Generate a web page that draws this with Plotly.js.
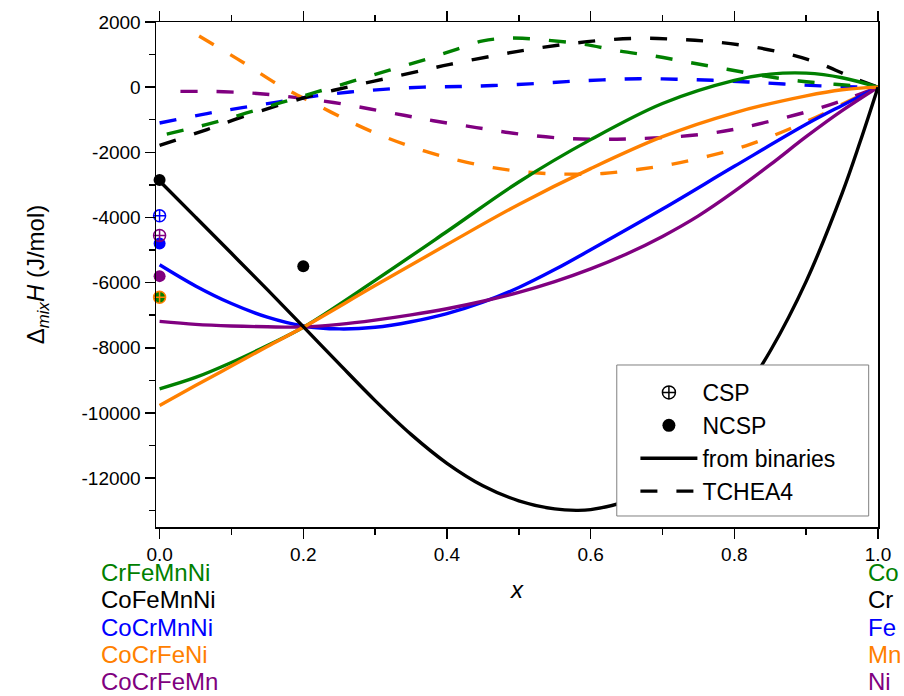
<!DOCTYPE html>
<html>
<head>
<meta charset="utf-8">
<script src="https://cdn.plot.ly/plotly-3.0.1.min.js"></script>
<style>html,body{margin:0;padding:0;background:#fff}#chart{width:904px;height:696px}</style>
</head>
<body>
<div id="chart"></div>
<script>
// ---------- colours ----------
const GREEN = '#008000', BLACK = '#000000', BLUE = '#0000FF', ORANGE = '#FF8000', PURPLE = '#800080';

// ---------- "from binaries" (solid) ----------
// CrFeMnNi + Co (green)
const binCoX = [0, 0.05, 0.1, 0.15, 0.2, 0.3, 0.4, 0.5, 0.6, 0.7, 0.8, 0.85, 0.9, 0.95, 1];
const binCoY = [-9260, -8910, -8450, -7930, -7370, -5930, -4430, -2910, -1610, -500, 210, 400, 430, 290, 0];
// CoFeMnNi + Cr (black)
const binCrX = [0, 0.05, 0.1, 0.15, 0.2, 0.25, 0.3, 0.35, 0.4, 0.45, 0.5, 0.55, 0.58, 0.6, 0.65, 0.7, 0.75, 0.8, 0.85, 0.9, 0.95, 0.975, 1];
const binCrY = [-2880, -3990, -5100, -6215, -7350, -8495, -9620, -10657, -11545, -12233, -12695, -12945, -12990, -12967, -12697, -12097, -11135, -9798, -8098, -5960, -3260, -1685, 0];
// CoCrMnNi + Fe (blue)
const binFeX = [0, 0.05, 0.1, 0.15, 0.2, 0.25, 0.3, 0.35, 0.4, 0.45, 0.5, 0.55, 0.6, 0.7, 0.8, 0.9, 0.95, 1];
const binFeY = [-5450, -6100, -6640, -7060, -7330, -7420, -7370, -7200, -6950, -6600, -6150, -5600, -4990, -3740, -2430, -1140, -560, 0];
// CoCrFeNi + Mn (orange)
const binMnX = [0, 0.05, 0.1, 0.15, 0.2, 0.3, 0.4, 0.5, 0.6, 0.7, 0.8, 0.9, 0.95, 1];
const binMnY = [-9770, -9160, -8560, -7960, -7370, -6090, -4830, -3600, -2500, -1520, -786, -268, -80, 0];
// CoCrFeMn + Ni (purple)
const binNiX = [0, 0.05, 0.1, 0.15, 0.2, 0.25, 0.3, 0.35, 0.4, 0.45, 0.5, 0.55, 0.6, 0.65, 0.7, 0.75, 0.8, 0.85, 0.9, 0.95, 1];
const binNiY = [-7190, -7280, -7330, -7355, -7360, -7280, -7150, -6990, -6800, -6570, -6300, -5970, -5580, -5120, -4580, -3950, -3200, -2380, -1520, -720, 0];

// ---------- TCHEA4 (dashed) ----------
const tcCoX = [0.01, 0.07, 0.12, 0.17, 0.22, 0.27, 0.32, 0.37, 0.41, 0.45, 0.48, 0.505, 0.54, 0.59, 0.64, 0.69, 0.74, 0.79, 0.84, 0.89, 0.94, 1];
const tcCoY = [-1440, -1120, -800, -470, -140, 190, 520, 850, 1140, 1420, 1500, 1500, 1440, 1320, 1110, 950, 750, 550, 350, 190, 90, 0];
const tcCrX = [0, 0.066, 0.117, 0.168, 0.219, 0.265, 0.316, 0.367, 0.404, 0.464, 0.515, 0.566, 0.617, 0.668, 0.719, 0.768, 0.816, 0.867, 0.916, 0.967, 1];
const tcCrY = [-1790, -1300, -900, -540, -220, 20, 270, 520, 700, 960, 1160, 1320, 1440, 1500, 1470, 1400, 1270, 1060, 750, 270, 0];
const tcFeX = [0, 0.066, 0.115, 0.166, 0.214, 0.265, 0.316, 0.367, 0.416, 0.464, 0.515, 0.566, 0.617, 0.668, 0.719, 0.77, 0.819, 0.869, 0.92, 0.969, 1];
const tcFeY = [-1100, -810, -630, -450, -280, -150, -60, 0, 20, 50, 100, 170, 225, 260, 245, 210, 160, 95, 40, 10, 0];
const tcMnX = [0.055, 0.117, 0.168, 0.217, 0.268, 0.316, 0.367, 0.413, 0.464, 0.518, 0.568, 0.617, 0.668, 0.714, 0.765, 0.816, 0.865, 0.913, 0.96, 1];
const tcMnY = [1570, 750, 40, -520, -1090, -1550, -1950, -2230, -2470, -2620, -2670, -2650, -2520, -2360, -2110, -1800, -1390, -930, -420, 0];
const tcNiX = [0.029, 0.089, 0.14, 0.191, 0.242, 0.293, 0.342, 0.381, 0.441, 0.501, 0.564, 0.617, 0.663, 0.714, 0.765, 0.812, 0.862, 0.913, 0.962, 1];
const tcNiY = [-130, -140, -200, -320, -470, -670, -870, -1030, -1240, -1440, -1570, -1600, -1580, -1530, -1420, -1240, -980, -680, -320, 0];

// ---------- point calculations ----------
const cspX = [0, 0, 0];
const cspY = [-3950, -4550, -6450];
const cspColors = [BLUE, PURPLE, ORANGE];
const ncspX = [0, 0, 0, 0, 0.2];
const ncspY = [-2850, -4800, -5800, -6450, -5500];
const ncspColors = [BLACK, BLUE, PURPLE, GREEN, BLACK];

// ---------- labels ----------
const leftLabels = ['CrFeMnNi', 'CoFeMnNi', 'CoCrMnNi', 'CoCrFeNi', 'CoCrFeMn'];
const rightLabels = ['Co', 'Cr', 'Fe', 'Mn', 'Ni'];
const labelColors = [GREEN, BLACK, BLUE, ORANGE, PURPLE];
const yTickVals = [2000, 0, -2000, -4000, -6000, -8000, -10000, -12000];
const yTickText = ['2000', '0', '-2000', '-4000', '-6000', '-8000', '-10000', '-12000'];

const DASH = '17px,19px';
const LW = 3.4;
function line(x, y, color, dash) {
  return {x: x, y: y, type: 'scatter', mode: 'lines', showlegend: false, hoverinfo: 'skip',
          line: {color: color, width: LW, dash: dash || 'solid', shape: 'spline', smoothing: 1}};
}

const traces = [
  line(tcNiX, tcNiY, PURPLE, DASH),
  line(tcMnX, tcMnY, ORANGE, DASH),
  line(tcFeX, tcFeY, BLUE, DASH),
  line(tcCrX, tcCrY, BLACK, DASH),
  line(tcCoX, tcCoY, GREEN, DASH),
  line(binFeX, binFeY, BLUE),
  line(binNiX, binNiY, PURPLE),
  line(binCoX, binCoY, GREEN),
  line(binMnX, binMnY, ORANGE),
  line(binCrX, binCrY, BLACK),
  {x: ncspX, y: ncspY, type: 'scatter', mode: 'markers', showlegend: false, cliponaxis: false,
   marker: {symbol: 'circle', size: 12, color: ncspColors, line: {width: 0}}},
  {x: cspX, y: cspY, type: 'scatter', mode: 'markers', showlegend: false, cliponaxis: false,
   marker: {symbol: 'circle-cross-open', size: 12, color: cspColors, line: {width: 1.5, color: cspColors}}},
  // legend entries
  {x: [null], y: [null], type: 'scatter', mode: 'markers', name: 'CSP',
   marker: {symbol: 'circle-cross-open', size: 13, color: BLACK, line: {width: 1.5, color: BLACK}}},
  {x: [null], y: [null], type: 'scatter', mode: 'markers', name: 'NCSP',
   marker: {symbol: 'circle', size: 13, color: BLACK}},
  {x: [null], y: [null], type: 'scatter', mode: 'lines', name: 'from binaries',
   line: {color: BLACK, width: LW}},
  {x: [null], y: [null], type: 'scatter', mode: 'lines', name: 'TCHEA4',
   line: {color: BLACK, width: LW, dash: DASH}}
];

const annotations = [];
leftLabels.forEach(function (t, i) {
  annotations.push({xref: 'paper', yref: 'paper', x: -0.0785, y: -0.0897 - i * 0.0542,
    xanchor: 'left', yanchor: 'middle', text: t, showarrow: false,
    font: {size: 24, color: labelColors[i]}});
});
rightLabels.forEach(function (t, i) {
  annotations.push({xref: 'paper', yref: 'paper', x: 0.984, y: -0.0897 - i * 0.0542,
    xanchor: 'left', yanchor: 'middle', text: t, showarrow: false,
    font: {size: 24, color: labelColors[i]}});
});

const axisCommon = {
  ticks: 'outside', ticklen: 10, tickwidth: 1.5, tickcolor: '#000',
  showline: true, linewidth: 1.5, linecolor: '#000',
  showgrid: false, zeroline: false, automargin: false, fixedrange: true,
  tickfont: {size: 19, color: '#000'}
};

const layout = {
  width: 904, height: 696,
  margin: {l: 156, r: 26, t: 22, b: 169, pad: 0},
  paper_bgcolor: '#ffffff', plot_bgcolor: '#ffffff',
  font: {family: 'Liberation Sans, Arial, sans-serif', size: 19, color: '#000'},
  showlegend: true,
  xaxis: Object.assign({}, axisCommon, {
    range: [-0.005, 1.0], tickmode: 'linear', tick0: 0, dtick: 0.2, tickformat: '.1f',
    mirror: 'ticks',
    minor: {tickmode: 'linear', tick0: 0, dtick: 0.1, ticks: 'outside', ticklen: 6, tickwidth: 1.5, tickcolor: '#000'},
    title: {text: '<i>x</i>', font: {size: 24}, standoff: 17}
  }),
  yaxis: Object.assign({}, axisCommon, {
    range: [-13500, 2000], tickmode: 'array', tickvals: yTickVals, ticktext: yTickText,
    mirror: true,
    minor: {tickmode: 'linear', tick0: 0, dtick: 1000, ticks: 'outside', ticklen: 6, tickwidth: 1.5, tickcolor: '#000'},
    title: {text: '\u0394<sub><i>mix</i></sub><i>H</i> (J/mol)', font: {size: 24}, standoff: 30}
  }),
  legend: {
    x: 0.664, y: 0.309, xanchor: 'left', yanchor: 'top',
    bgcolor: 'rgba(0,0,0,0)', borderwidth: 0, itemwidth: 57,
    font: {size: 23, color: '#000'}, traceorder: 'normal'
  },
  shapes: [{type: 'rect', xref: 'paper', yref: 'paper', x0: 0.6382, x1: 0.9871, y0: 0.0218, y1: 0.3208,
            layer: 'above', fillcolor: '#ffffff', line: {color: '#808080', width: 1}}],
  annotations: annotations
};

Plotly.newPlot('chart', traces, layout, {staticPlot: true, displayModeBar: false});
</script>
</body>
</html>
